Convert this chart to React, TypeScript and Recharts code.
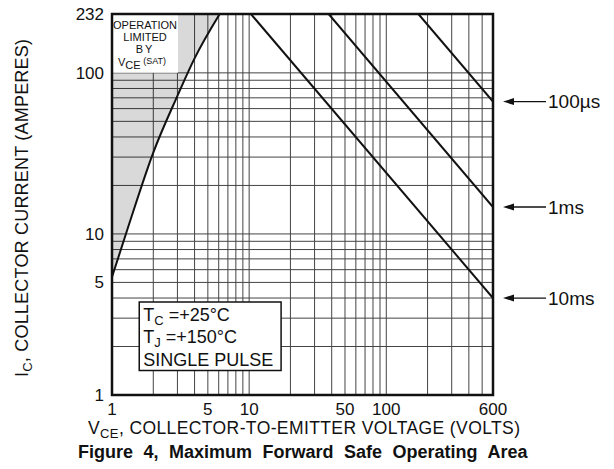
import React from "react";
import {
  ComposedChart,
  Line,
  Area,
  XAxis,
  YAxis,
  CartesianGrid,
  ReferenceArea,
  LabelList,
} from "recharts";

// axis ticks (every one gets a grid line, only some get a label)
const xTicks = [1, 2, 3, 4, 5, 6, 7, 8, 9, 10, 20, 30, 40, 50, 60, 70, 80, 90, 100, 200, 300, 400, 500, 600];
const xTickLabels = [1, 5, 10, 50, 100, 600];
const yTicks = [1, 2, 3, 4, 5, 6, 7, 8, 9, 10, 20, 30, 40, 50, 60, 70, 80, 90, 100, 232];
const yTickLabels = [1, 5, 10, 100, 232];

// VCE(sat) limit curve
const satVolts = [1, 1.31, 2, 3, 4, 6.1];
const satAmps = [5.4, 11, 32, 72, 123, 232];

// single pulse limits
const pulseNames = ["100µs", "1ms", "10ms"];
const pulseVolts = [
  [171.5, 600],
  [38, 600],
  [10.3, 600],
];
const pulseAmps = [
  [232, 66.3],
  [232, 14.7],
  [232, 4.0],
];

// "operation limited" note box and conditions box (V range, I range)
const noteBoxV = [1, 3.03];
const noteBoxI = [100, 232];
const condBoxV = [1.58, 17.1];
const condBoxI = [1.42, 3.78];

const FONT = "'Liberation Sans', Arial, Helvetica, sans-serif";
const INK = "#111";

const yTop = yTicks[yTicks.length - 1];
const xMax = xTicks[xTicks.length - 1];

const satData = satVolts.map((v, k) => ({ v, i: satAmps[k], band: [satAmps[k], yTop] }));
const pulseData = pulseNames.map((_, s) =>
  pulseVolts[s].map((v, k) => ({ v, i: pulseAmps[s][k] }))
);

const pulseLabel = (name: string, lastValue: number) => (props: any) => {
  const { x, y, value } = props;
  if (value !== lastValue) return null;
  return (
    <g>
      <polygon points={`${x + 10},${y} ${x + 21},${y - 3.5} ${x + 21},${y + 3.5}`} fill={INK} />
      <line x1={x + 20} y1={y} x2={x + 53} y2={y} stroke={INK} strokeWidth={1.3} />
      <text x={x + 55} y={y} dy="0.36em" fontSize={19} fontFamily={FONT} fill={INK}>
        {name}
      </text>
    </g>
  );
};

const NoteLabel = (props: any) => {
  const { x, y, width } = props.viewBox;
  const cx = x + width / 2;
  const common = { fontSize: 11, fontFamily: FONT, fill: INK, textAnchor: "middle" as const };
  return (
    <g>
      <text x={cx} y={y + 15} {...common}>OPERATION</text>
      <text x={cx} y={y + 27} {...common}>LIMITED</text>
      <text x={cx} y={y + 39} {...common} letterSpacing={2}>BY</text>
      <text x={cx - 3} y={y + 52} {...common}>
        V<tspan fontSize={11} dy={3}>CE</tspan>
        <tspan dy={-5} fontSize={9}> (SAT)</tspan>
      </text>
    </g>
  );
};

const CondLabel = (props: any) => {
  const { x, y } = props.viewBox;
  const common = { fontSize: 18, fontFamily: FONT, fill: INK };
  return (
    <g>
      <text x={x + 4} y={y + 19} {...common}>
        T<tspan fontSize={13} dy={4}>C</tspan>
        <tspan dy={-4}> =+25°C</tspan>
      </text>
      <text x={x + 4} y={y + 41} {...common}>
        T<tspan fontSize={13} dy={4}>J</tspan>
        <tspan dy={-4}> =+150°C</tspan>
      </text>
      <text x={x + 4} y={y + 64} {...common}>SINGLE PULSE</text>
    </g>
  );
};

const tickFmt = (labels: number[]) => (v: number) => (labels.includes(v) ? String(v) : "");

export default function App() {
  return (
    <div style={{ position: "absolute", left: 0, top: 0, width: 614, height: 469, background: "#fff" }}>
      <ComposedChart width={614} height={469} margin={{ top: 14, right: 121, bottom: 44, left: 52 }}>
        <XAxis
          type="number"
          dataKey="v"
          scale="log"
          domain={[1, xMax]}
          allowDataOverflow
          ticks={xTicks}
          interval={0}
          tickFormatter={tickFmt(xTickLabels)}
          axisLine={false}
          tickLine={false}
          height={30}
          tick={{ fontSize: 17, fill: INK, fontFamily: FONT }}
        />
        <YAxis
          type="number"
          scale="log"
          domain={[1, yTop]}
          allowDataOverflow
          ticks={yTicks}
          interval={0}
          tickFormatter={tickFmt(yTickLabels)}
          axisLine={false}
          tickLine={false}
          width={60}
          tick={{ fontSize: 17, fill: INK, fontFamily: FONT }}
        />
        <Area
          data={satData}
          dataKey="band"
          type="monotone"
          stroke="none"
          fill="#000"
          fillOpacity={0.15}
          isAnimationActive={false}
        />
        <CartesianGrid stroke="#444" strokeWidth={1} />
        <ReferenceArea
          x1={noteBoxV[0]}
          x2={noteBoxV[1]}
          y1={noteBoxI[0]}
          y2={noteBoxI[1]}
          fill="#fff"
          fillOpacity={1}
          stroke="none"
          label={<NoteLabel />}
        />
        <ReferenceArea
          x1={condBoxV[0]}
          x2={condBoxV[1]}
          y1={condBoxI[0]}
          y2={condBoxI[1]}
          fill="#fff"
          fillOpacity={1}
          stroke={INK}
          strokeWidth={1.5}
          label={<CondLabel />}
        />
        <Line
          data={satData}
          dataKey="i"
          type="monotone"
          stroke={INK}
          strokeWidth={2}
          dot={false}
          isAnimationActive={false}
        />
        {pulseNames.map((name, s) => (
          <Line
            key={name}
            data={pulseData[s]}
            dataKey="i"
            type="linear"
            stroke={INK}
            strokeWidth={2}
            dot={false}
            isAnimationActive={false}
          >
            <LabelList dataKey="i" content={pulseLabel(name, pulseAmps[s][pulseAmps[s].length - 1])} />
          </Line>
        ))}
        <ReferenceArea
          x1={1}
          x2={xMax}
          y1={1}
          y2={yTop}
          fill="none"
          stroke={INK}
          strokeWidth={2.5}
        />
      </ComposedChart>
      <svg
        width={614}
        height={469}
        style={{ position: "absolute", left: 0, top: 0, pointerEvents: "none" }}
      >
        <text x={88} y={434} fontSize={17.5} fontFamily={FONT} fill={INK} textLength={432} lengthAdjust="spacing">
          V<tspan fontSize={13} dy={4}>CE</tspan>
          <tspan dy={-4}>, COLLECTOR-TO-EMITTER VOLTAGE (VOLTS)</tspan>
        </text>
        <text
          x={78}
          y={458}
          fontSize={18}
          fontWeight="bold"
          fontFamily={FONT}
          fill={INK}
          wordSpacing={5.5}
        >
          Figure 4, Maximum Forward Safe Operating Area
        </text>
        <text
          transform="translate(28,208) rotate(-90)"
          textAnchor="middle"
          fontSize={18}
          fontFamily={FONT}
          fill={INK}
          textLength={338}
          lengthAdjust="spacing"
        >
          I<tspan fontSize={13} dy={4}>C</tspan>
          <tspan dy={-4}>, COLLECTOR CURRENT (AMPERES)</tspan>
        </text>
      </svg>
    </div>
  );
}
